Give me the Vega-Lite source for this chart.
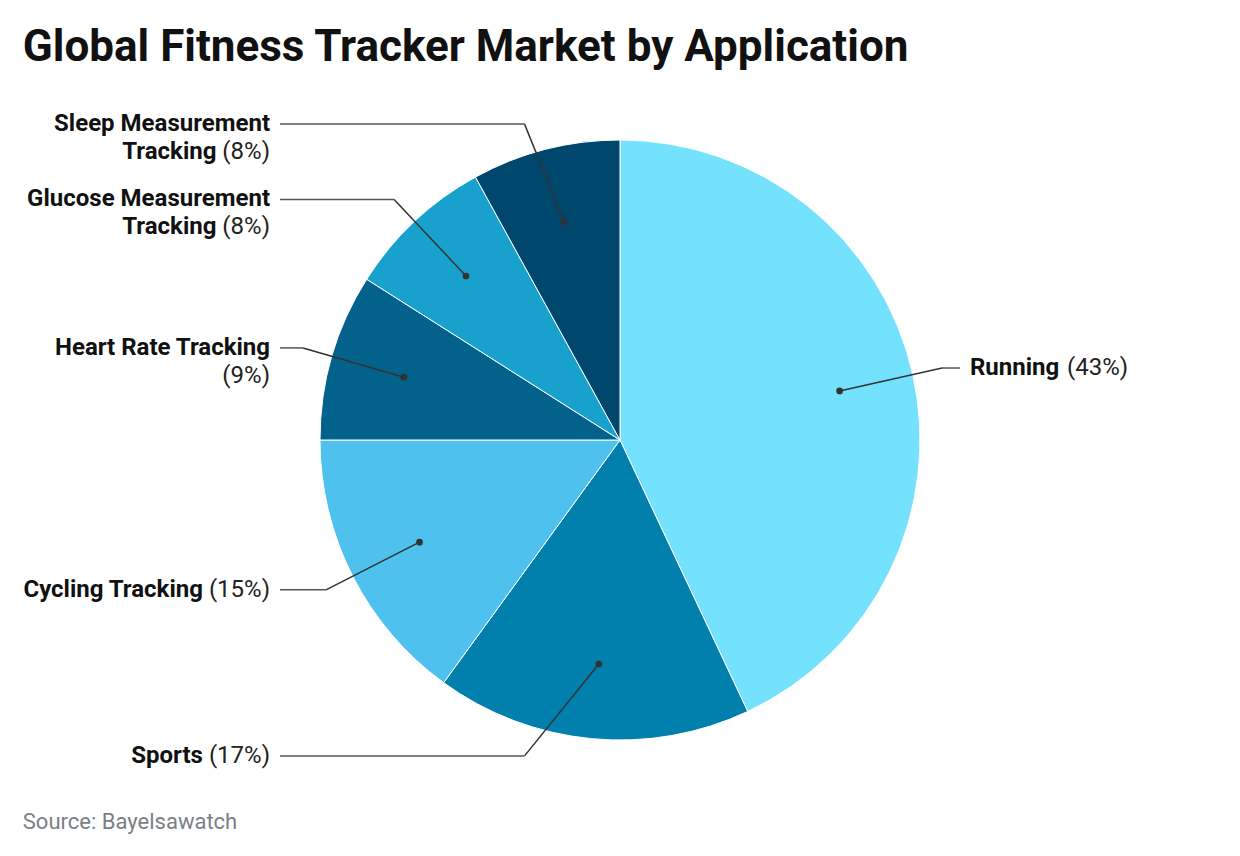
{
  "$schema": "https://vega.github.io/schema/vega-lite/v6.json",
  "autosize": {"type": "pad"},
  "padding": {"left": 22, "top": 26, "right": 10, "bottom": 10},
  "background": "white",
  "config": {"view": {"stroke": null}, "font": "Roboto"},
  "title": {
    "text": "Global Fitness Tracker Market by Application",
    "anchor": "start",
    "font": "Roboto",
    "fontSize": 44,
    "fontWeight": "bold",
    "color": "#111111",
    "offset": 42
  },
  "vconcat": [{
    "width": 600,
    "height": 600,
    "title": {
      "text": "Source: Bayelsawatch",
      "orient": "bottom",
      "anchor": "start",
      "frame": "bounds",
      "font": "Roboto",
      "fontSize": 22,
      "fontWeight": "normal",
      "color": "#7a7f85",
      "offset": 44
    },
    "data": {"values": [
      {"name": "Running", "pct": 43},
      {"name": "Sports", "pct": 17},
      {"name": "Cycling Tracking", "pct": 15},
      {"name": "Heart Rate Tracking|", "pct": 9},
      {"name": "Glucose Measurement|Tracking", "pct": 8},
      {"name": "Sleep Measurement|Tracking", "pct": 8}
    ]},
    "transform": [
      {"window": [{"op": "sum", "field": "pct", "as": "cum"}], "frame": [null, 0]},
      {"calculate": "datum.cum - datum.pct", "as": "start"},
      {"calculate": "(datum.cum - datum.pct / 2) / 100 * 2 * PI", "as": "a"},
      {"calculate": "0.75 * sin(datum.a)", "as": "px"},
      {"calculate": "0.75 * cos(datum.a)", "as": "py"},
      {"calculate": "clamp(1.1 * cos(datum.a), -1.053, 1.053)", "as": "ey"},
      {"calculate": "(sin(datum.a) >= 0 ? 1 : -1) * sqrt(1.21 - datum.ey * datum.ey)", "as": "ex"},
      {"calculate": "datum.ex >= 0 ? 'right' : 'left'", "as": "side"},
      {"calculate": "datum.ex >= 0 ? 1.1333 : -1.1333", "as": "lx"},
      {"calculate": "indexof(datum.name, '|')", "as": "bp"},
      {"calculate": "datum.bp >= 0 ? substring(datum.name, 0, datum.bp) : ''", "as": "head"},
      {"calculate": "datum.bp >= 0 ? substring(datum.name, datum.bp + 1) : datum.name", "as": "tail"},
      {"calculate": "datum.bp >= 0 ? datum.ey - 28 / 300 : datum.ey", "as": "ty"},
      {"calculate": "'(' + datum.pct + '%)'", "as": "pctText"},
      {"calculate": "datum.lx - (24 * (1.422 + 0.5615 * length(toString(datum.pct))) + 6) / 300", "as": "tx"}
    ],
    "layer": [
      {
        "mark": {"type": "arc", "outerRadius": 300, "stroke": "white", "strokeWidth": 1},
        "encoding": {
          "theta": {"field": "start", "type": "quantitative", "scale": {"domain": [0, 100]}},
          "theta2": {"field": "cum"},
          "color": {
            "field": "name",
            "type": "nominal",
            "scale": {
              "domain": ["Running", "Sports", "Cycling Tracking", "Heart Rate Tracking|", "Glucose Measurement|Tracking", "Sleep Measurement|Tracking"],
              "range": ["#74E1FD", "#0180AD", "#4FC1EE", "#02628C", "#19A1CE", "#00476E"]
            },
            "legend": null
          }
        }
      },
      {
        "mark": {"type": "rule", "color": "#333333", "strokeWidth": 1.5},
        "encoding": {
          "x": {"field": "px", "type": "quantitative", "scale": {"domain": [-1, 1], "nice": false}, "axis": null},
          "y": {"field": "py", "type": "quantitative", "scale": {"domain": [-1, 1], "nice": false}, "axis": null},
          "x2": {"field": "ex"},
          "y2": {"field": "ey"}
        }
      },
      {
        "mark": {"type": "rule", "color": "#555555", "strokeWidth": 1.5},
        "encoding": {
          "x": {"field": "ex", "type": "quantitative", "scale": {"domain": [-1, 1], "nice": false}, "axis": null},
          "y": {"field": "ey", "type": "quantitative", "scale": {"domain": [-1, 1], "nice": false}, "axis": null},
          "x2": {"field": "lx"}
        }
      },
      {
        "mark": {"type": "point", "filled": true, "size": 45, "color": "#333333", "opacity": 1},
        "encoding": {
          "x": {"field": "px", "type": "quantitative", "scale": {"domain": [-1, 1], "nice": false}, "axis": null},
          "y": {"field": "py", "type": "quantitative", "scale": {"domain": [-1, 1], "nice": false}, "axis": null}
        }
      },
      {
        "transform": [{"filter": "datum.head != ''"}],
        "mark": {"type": "text", "align": "right", "baseline": "middle", "dx": -10, "fontSize": 24, "fontWeight": "bold", "color": "#111111"},
        "encoding": {
          "x": {"field": "lx", "type": "quantitative", "scale": {"domain": [-1, 1], "nice": false}, "axis": null},
          "y": {"field": "ey", "type": "quantitative", "scale": {"domain": [-1, 1], "nice": false}, "axis": null},
          "text": {"field": "head"}
        }
      },
      {
        "transform": [{"filter": "datum.side == 'left'"}],
        "mark": {"type": "text", "align": "right", "baseline": "middle", "dx": -10, "fontSize": 24, "fontWeight": "bold", "color": "#111111"},
        "encoding": {
          "x": {"field": "tx", "type": "quantitative", "scale": {"domain": [-1, 1], "nice": false}, "axis": null},
          "y": {"field": "ty", "type": "quantitative", "scale": {"domain": [-1, 1], "nice": false}, "axis": null},
          "text": {"field": "tail"}
        }
      },
      {
        "transform": [{"filter": "datum.side == 'left'"}],
        "mark": {"type": "text", "align": "right", "baseline": "middle", "dx": -10, "fontSize": 24, "fontWeight": "normal", "color": "#222222"},
        "encoding": {
          "x": {"field": "lx", "type": "quantitative", "scale": {"domain": [-1, 1], "nice": false}, "axis": null},
          "y": {"field": "ty", "type": "quantitative", "scale": {"domain": [-1, 1], "nice": false}, "axis": null},
          "text": {"field": "pctText"}
        }
      },
      {
        "transform": [{"filter": "datum.side == 'right'"}],
        "mark": {"type": "text", "align": "left", "baseline": "middle", "dx": 10, "fontSize": 24, "fontWeight": "bold", "color": "#111111"},
        "encoding": {
          "x": {"field": "lx", "type": "quantitative", "scale": {"domain": [-1, 1], "nice": false}, "axis": null},
          "y": {"field": "ty", "type": "quantitative", "scale": {"domain": [-1, 1], "nice": false}, "axis": null},
          "text": {"field": "tail"}
        }
      },
      {
        "transform": [{"filter": "datum.side == 'right'"}],
        "mark": {"type": "text", "align": "left", "baseline": "middle", "dx": 107, "fontSize": 24, "fontWeight": "normal", "color": "#222222"},
        "encoding": {
          "x": {"field": "lx", "type": "quantitative", "scale": {"domain": [-1, 1], "nice": false}, "axis": null},
          "y": {"field": "ty", "type": "quantitative", "scale": {"domain": [-1, 1], "nice": false}, "axis": null},
          "text": {"field": "pctText"}
        }
      }
    ]
  }]
}
